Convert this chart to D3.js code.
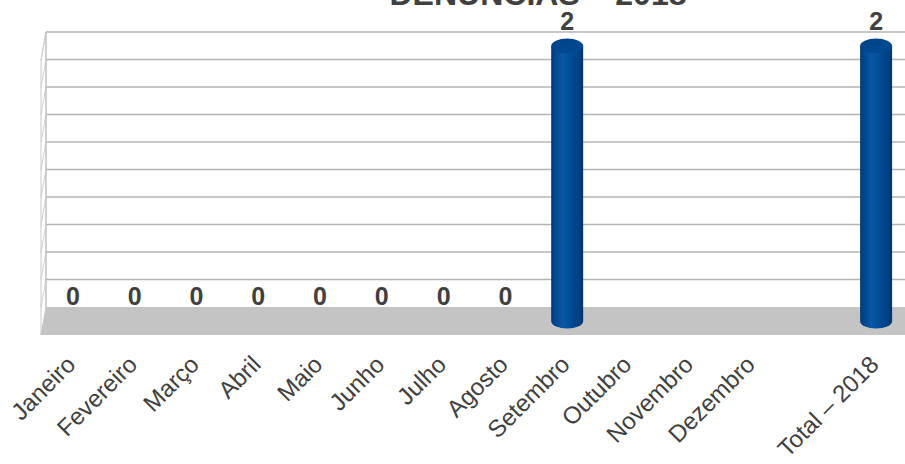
<!DOCTYPE html>
<html>
<head>
<meta charset="utf-8">
<script src="https://cdn.jsdelivr.net/npm/d3@7/dist/d3.min.js"></script>
<style>
  html, body { margin: 0; padding: 0; background: #ffffff; }
  svg { display: block; }
  text { font-family: "Liberation Sans", Arial, sans-serif; }
</style>
</head>
<body>
<svg id="chart" width="905" height="464"></svg>
<script>
// ---- data ----
const title = "DENÚNCIAS – 2018";
const categories = ["Janeiro", "Fevereiro", "Março", "Abril", "Maio", "Junho", "Julho",
  "Agosto", "Setembro", "Outubro", "Novembro", "Dezembro", "", "Total – 2018"];
const values = [0, 0, 0, 0, 0, 0, 0, 0, 2, null, null, null, null, 2];
const gridTicks = [0.2, 0.4, 0.6, 0.8, 1.0, 1.2, 1.4, 1.6, 1.8, 2.0];

// ---- layout ----
const W = 905, H = 464;
const svg = d3.select("#chart");
const depthX = 5, depthY = 28;       // back wall offset relative to floor front
const floorFront = 335, floorBack = floorFront - depthY;

const x = d3.scaleBand().domain(d3.range(categories.length)).range([42, 907]);
const cx = i => x(i) + x.bandwidth() / 2;
const yWall = d3.scaleLinear().domain([0, 2]).range([floorBack, 32]);
const yBar = d3.scaleLinear().domain([0, 2]).range([321, 46]);

const defs = svg.append("defs");
const grad = defs.append("linearGradient").attr("id", "cyl").attr("x1", "0").attr("x2", "1").attr("y1", "0").attr("y2", "0");
[[0, "#003a76"], [0.12, "#00468c"], [0.35, "#0a58a6"], [0.6, "#004d98"], [0.88, "#003f7e"], [1, "#00366c"]]
  .forEach(([o, c]) => grad.append("stop").attr("offset", o).attr("stop-color", c));
const topGrad = defs.append("linearGradient").attr("id", "cyltop").attr("x1", "0").attr("x2", "1").attr("y1", "0").attr("y2", "1");
[[0, "#003f80"], [0.5, "#00488e"], [1, "#004a92"]]
  .forEach(([o, c]) => topGrad.append("stop").attr("offset", o).attr("stop-color", c));

// side wall
const wallLeft = 46, frontLeft = 41;
svg.append("path")
  .attr("d", `M${wallLeft},${yWall(2)} L${wallLeft},${floorBack} L${frontLeft},${floorFront} L${frontLeft},${yWall(2) + depthY} Z`)
  .attr("fill", "#ffffff").attr("stroke", "#c8c8c8").attr("stroke-width", 1);

// floor
svg.append("path")
  .attr("d", `M${wallLeft},${floorBack} L${W},${floorBack} L${W},${floorFront} L${frontLeft},${floorFront} Z`)
  .attr("fill", "#c4c4c4");

// gridlines on back wall
svg.append("g").selectAll("line").data(gridTicks).join("line")
  .attr("x1", wallLeft).attr("x2", W)
  .attr("y1", d => yWall(d)).attr("y2", d => yWall(d))
  .attr("stroke", "#b4b4b4").attr("stroke-width", 1.3);
// gridlines on side wall
svg.append("g").selectAll("line").data(gridTicks).join("line")
  .attr("x1", wallLeft).attr("x2", frontLeft)
  .attr("y1", d => yWall(d)).attr("y2", d => yWall(d) + depthY)
  .attr("stroke", "#d0d0d0").attr("stroke-width", 1);
svg.append("line").attr("x1", wallLeft).attr("x2", wallLeft)
  .attr("y1", yWall(2)).attr("y2", floorBack).attr("stroke", "#bdbdbd").attr("stroke-width", 1);

// bars (cylinders)
const bw = 32, ry = 7.5;
const barData = values.map((v, i) => ({ v, i })).filter(d => d.v !== null);
const bars = svg.append("g").selectAll("g").data(barData.filter(d => d.v > 0)).join("g");
bars.append("path")
  .attr("d", d => {
    const c = cx(d.i), l = c - bw / 2, r = c + bw / 2, yt = yBar(d.v), yb = yBar(0);
    return `M${l},${yt} L${l},${yb} A${bw / 2},${ry} 0 0 0 ${r},${yb} L${r},${yt} Z`;
  })
  .attr("fill", "url(#cyl)");
bars.append("ellipse")
  .attr("cx", d => cx(d.i)).attr("cy", d => yBar(d.v))
  .attr("rx", bw / 2).attr("ry", ry)
  .attr("fill", "url(#cyltop)");

// value labels
svg.append("g").selectAll("text").data(barData).join("text")
  .attr("x", d => cx(d.i))
  .attr("y", d => yBar(d.v) - ry - 9)
  .attr("text-anchor", "middle")
  .attr("font-size", 25).attr("font-weight", "bold").attr("fill", "#404040")
  .text(d => d.v);

// category labels
svg.append("g").selectAll("text").data(categories.map((c, i) => ({ c, i }))).join("text")
  .attr("transform", d => `translate(${cx(d.i) + 4},${366}) rotate(-45)`)
  .attr("text-anchor", "end")
  .attr("font-size", 24).attr("fill", "#404040")
  .text(d => d.c);

// title (partially cut off at the top)
svg.append("text")
  .attr("x", 538).attr("y", 5)
  .attr("text-anchor", "middle")
  .attr("font-size", 32).attr("font-weight", "bold").attr("fill", "#404040")
  .text(title);
</script>
</body>
</html>
